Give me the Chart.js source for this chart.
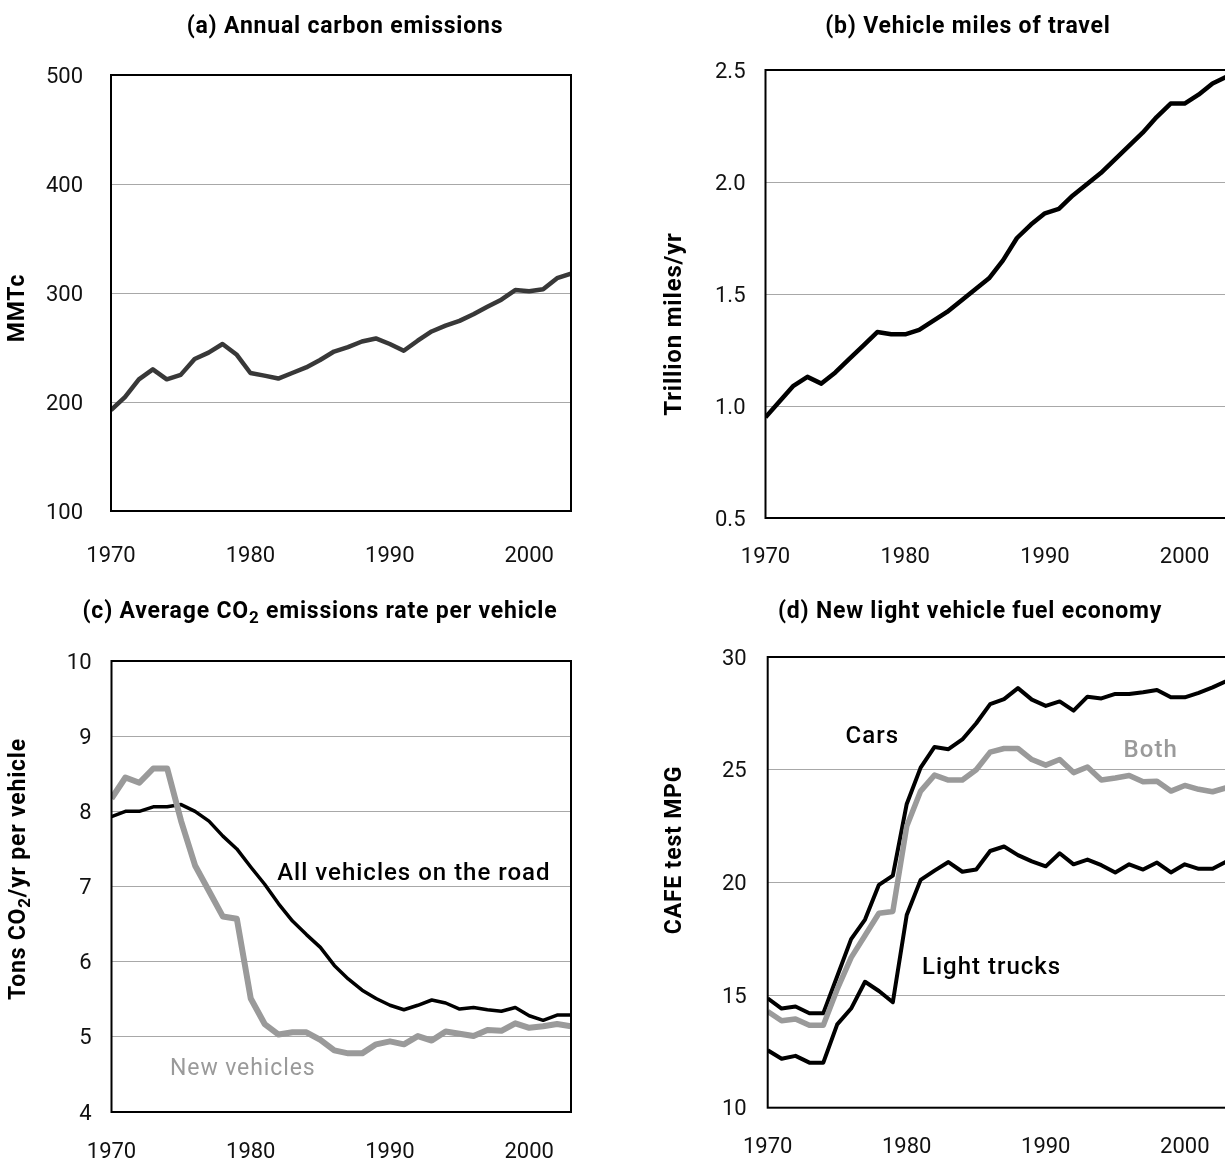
<!DOCTYPE html>
<html>
<head>
<meta charset="utf-8">
<title>Light vehicle trends, 1970–2003</title>
<script src="https://cdn.jsdelivr.net/npm/chart.js@4.4.1/dist/chart.umd.min.js"></script>
<style>
  html, body { margin: 0; padding: 0; background: #fff; width: 1225px; height: 1158px; overflow: hidden; }
  canvas { position: absolute; }
</style>
</head>
<body>
<canvas id="panelA"></canvas>
<canvas id="panelB"></canvas>
<canvas id="panelC"></canvas>
<canvas id="panelD"></canvas>
<script>
// ---- data -------------------------------------------------------------
const years = [1970, 1971, 1972, 1973, 1974, 1975, 1976, 1977, 1978, 1979,
               1980, 1981, 1982, 1983, 1984, 1985, 1986, 1987, 1988, 1989,
               1990, 1991, 1992, 1993, 1994, 1995, 1996, 1997, 1998, 1999,
               2000, 2001, 2002, 2003];
const yearTicks = [1970, 1980, 1990, 2000];

// (a) annual carbon emissions, MMTc
const carbonEmissions = [192.5, 204.4, 220.8, 230.0, 220.8, 224.9, 239.5, 245.3, 253.2, 243.6,
                         226.6, 224.2, 221.5, 226.6, 231.7, 238.5, 246.3, 250.4, 255.5, 258.3,
                         253.2, 247.0, 256.2, 264.7, 270.0, 274.4, 280.5, 287.4, 293.9, 302.7,
                         301.7, 303.4, 313.6, 317.7];
const carbonTicks = [100, 200, 300, 400, 500];

// (b) vehicle miles of travel, trillion miles/yr
const vehicleMiles = [0.95, 1.02, 1.09, 1.13, 1.10, 1.15, 1.21, 1.27, 1.33, 1.32,
                      1.32, 1.34, 1.38, 1.42, 1.47, 1.52, 1.57, 1.65, 1.75, 1.81,
                      1.86, 1.88, 1.94, 1.99, 2.04, 2.10, 2.16, 2.22, 2.29, 2.35,
                      2.35, 2.39, 2.44, 2.47];
const milesTicks = [0.5, 1.0, 1.5, 2.0, 2.5];

// (c) average CO2 emissions rate per vehicle, tons CO2/yr
const allVehiclesRate = [7.93, 8.00, 8.00, 8.06, 8.06, 8.09, 8.00, 7.87, 7.67, 7.50,
                         7.26, 7.03, 6.77, 6.54, 6.36, 6.19, 5.95, 5.77, 5.62, 5.51,
                         5.42, 5.36, 5.42, 5.49, 5.45, 5.37, 5.39, 5.36, 5.34, 5.39,
                         5.28, 5.22, 5.29, 5.29];
const newVehiclesRate = [8.17, 8.45, 8.38, 8.57, 8.57, 7.87, 7.28, 6.94, 6.60, 6.57,
                         5.51, 5.17, 5.03, 5.06, 5.06, 4.96, 4.82, 4.78, 4.78, 4.90,
                         4.94, 4.90, 5.01, 4.95, 5.07, 5.04, 5.01, 5.09, 5.08, 5.18,
                         5.12, 5.14, 5.17, 5.14];
const rateTicks = [4, 5, 6, 7, 8, 9, 10];

// (d) new light vehicle fuel economy, CAFE test MPG
const carsMpg = [14.85, 14.40, 14.49, 14.19, 14.19, 15.83, 17.48, 18.35, 19.89, 20.30,
                 23.48, 25.09, 26.01, 25.91, 26.34, 27.06, 27.91, 28.13, 28.62, 28.11,
                 27.83, 28.03, 27.62, 28.24, 28.16, 28.36, 28.36, 28.44, 28.54, 28.21,
                 28.21, 28.41, 28.65, 28.93];
const bothMpg = [14.27, 13.86, 13.94, 13.66, 13.66, 15.26, 16.66, 17.64, 18.63, 18.71,
                 22.49, 24.05, 24.76, 24.54, 24.54, 25.00, 25.78, 25.94, 25.94, 25.45,
                 25.20, 25.45, 24.87, 25.12, 24.54, 24.63, 24.74, 24.46, 24.49, 24.05,
                 24.30, 24.13, 24.02, 24.20];
const trucksMpg = [12.55, 12.17, 12.30, 12.00, 12.00, 13.70, 14.40, 15.59, 15.18, 14.68,
                   18.55, 20.11, 20.52, 20.90, 20.47, 20.57, 21.39, 21.59, 21.21, 20.93,
                   20.71, 21.29, 20.80, 21.01, 20.76, 20.44, 20.80, 20.57, 20.88, 20.44,
                   20.80, 20.60, 20.60, 20.93];
const mpgTicks = [10, 15, 20, 25, 30];

// ---- styling ----------------------------------------------------------
const FONT = 'Roboto, "Open Sans", "DejaVu Sans", sans-serif';
const BLACK = '#000000';
const GREY = '#9a9a9a';
const DARK = '#383838';

// draws a run of text pieces, some of them as subscripts, starting or centred at x
function drawRuns(ctx, runs, x, y, align, size, weight, spacing) {
  const mainFont = weight + ' ' + size + 'px ' + FONT;
  const subFont = weight + ' ' + Math.round(size * 0.72) + 'px ' + FONT;
  ctx.letterSpacing = spacing + 'px';
  const widths = runs.map(r => { ctx.font = r.sub ? subFont : mainFont; return ctx.measureText(r.t).width; });
  const total = widths.reduce((a, b) => a + b, 0);
  let cx = align === 'center' ? x - total / 2 : x;
  ctx.textAlign = 'left';
  runs.forEach((r, i) => {
    ctx.font = r.sub ? subFont : mainFont;
    ctx.fillText(r.t, cx, r.sub ? y + size * 0.3 : y);
    cx += widths[i];
  });
  ctx.letterSpacing = '0px';
}

// panel title, rotated axis title and in-plot series labels
const panelText = {
  id: 'panelText',
  afterDraw(chart, args, opts) {
    const ctx = chart.ctx;
    ctx.save();
    ctx.textBaseline = 'middle';
    ctx.fillStyle = BLACK;
    const t = opts.title;
    drawRuns(ctx, t.runs, t.x - opts.left, t.y - opts.top, 'center', 23, 'bold', 0.8);
    const a = opts.axisTitle;
    ctx.save();
    ctx.translate(a.x - opts.left, a.y - opts.top);
    ctx.rotate(-Math.PI / 2);
    drawRuns(ctx, a.runs, 0, 0, 'center', a.size || 23, 'bold', 0.8);
    ctx.restore();
    (opts.notes || []).forEach(n => {
      const px = chart.scales.x.getPixelForValue(n.year);
      const py = chart.scales.y.getPixelForValue(n.value);
      ctx.fillStyle = n.color;
      drawRuns(ctx, [{ t: n.text }], px, py, 'left', n.size, n.weight, n.spacing);
    });
    ctx.restore();
  }
};

// black box around the plotting area
const plotFrame = {
  id: 'plotFrame',
  afterDatasetsDraw(chart) {
    const { left, top, right, bottom } = chart.chartArea;
    const ctx = chart.ctx;
    ctx.save();
    ctx.strokeStyle = BLACK;
    ctx.lineWidth = 2;
    ctx.strokeRect(left, top, right - left, bottom - top);
    ctx.restore();
  }
};

function makePanel(id, p) {
  const canvas = document.getElementById(id);
  canvas.width = p.w;
  canvas.height = p.h;
  Object.assign(canvas.style, { left: p.left + 'px', top: p.top + 'px', width: p.w + 'px', height: p.h + 'px' });

  const datasets = p.series.map(s => ({
    data: years.map((yr, i) => ({ x: yr, y: s.values[i] })),
    borderColor: s.color,
    borderWidth: s.width,
    pointRadius: 0,
    tension: 0,
    fill: false,
    borderJoinStyle: 'round'
  }));

  return new Chart(canvas, {
    type: 'line',
    data: { datasets },
    options: {
      responsive: false,
      animation: false,
      devicePixelRatio: 1,
      layout: { padding: { left: 0, top: p.plot.top - p.top, right: p.left + p.w - p.plot.right, bottom: 0 } },
      plugins: {
        legend: { display: false },
        tooltip: { enabled: false },
        panelText: { left: p.left, top: p.top, title: p.title, axisTitle: p.axisTitle, notes: p.notes }
      },
      scales: {
        x: {
          type: 'linear',
          min: 1970,
          max: 2003,
          afterFit(s) { s.height = p.top + p.h - p.plot.bottom; },
          afterBuildTicks(s) { s.ticks = yearTicks.map(v => ({ value: v })); },
          grid: { display: false },
          border: { display: false },
          ticks: { padding: p.xPad, color: '#111', font: { family: FONT, size: 22 }, maxRotation: 0, autoSkip: false,
                   callback: v => String(v) }
        },
        y: {
          type: 'linear',
          min: p.yTicks[0],
          max: p.yTicks[p.yTicks.length - 1],
          afterFit(s) { s.width = p.plot.left - p.left; },
          afterBuildTicks(s) { s.ticks = p.yTicks.map(v => ({ value: v })); },
          grid: { color: '#a8a8a8', lineWidth: 1, drawTicks: false },
          border: { display: false },
          ticks: { padding: p.yPad, labelOffset: 2, color: '#111', font: { family: FONT, size: 22 }, autoSkip: false,
                   callback: v => p.fmt(v) }
        }
      }
    },
    plugins: [panelText, plotFrame]
  });
}

makePanel('panelA', {
  left: 0, top: 0, w: 612, h: 580,
  plot: { left: 111, top: 75, right: 571, bottom: 511 },
  xPad: 24, yPad: 28,
  yTicks: carbonTicks, fmt: v => String(v),
  series: [{ values: carbonEmissions, color: DARK, width: 4.5 }],
  title: { x: 345, y: 27, runs: [{ t: '(a) Annual carbon emissions' }] },
  axisTitle: { x: 18, y: 308, runs: [{ t: 'MMTc' }] }
});

makePanel('panelB', {
  left: 612, top: 0, w: 650, h: 580,
  plot: { left: 765.5, top: 70, right: 1226.5, bottom: 518 },
  xPad: 18, yPad: 20,
  yTicks: milesTicks, fmt: v => v.toFixed(1),
  series: [{ values: vehicleMiles, color: BLACK, width: 4.5 }],
  title: { x: 968, y: 27, runs: [{ t: '(b) Vehicle miles of travel' }] },
  axisTitle: { x: 675, y: 324, size: 24, runs: [{ t: 'Trillion miles/yr' }] }
});

makePanel('panelC', {
  left: 0, top: 580, w: 612, h: 578,
  plot: { left: 111.5, top: 661, right: 571, bottom: 1112 },
  xPad: 19, yPad: 20,
  yTicks: rateTicks, fmt: v => String(v),
  series: [
    { values: newVehiclesRate, color: GREY, width: 6 },
    { values: allVehiclesRate, color: BLACK, width: 3.5 }
  ],
  title: { x: 320, y: 612, runs: [{ t: '(c) Average CO' }, { t: '2', sub: true }, { t: ' emissions rate per vehicle' }] },
  axisTitle: { x: 19, y: 869, runs: [{ t: 'Tons CO' }, { t: '2', sub: true }, { t: '/yr per vehicle' }] },
  notes: [
    { text: 'All vehicles on the road', year: 1981.9, value: 7.17, color: BLACK, size: 24, weight: '500', spacing: 1.0 },
    { text: 'New vehicles', year: 1974.2, value: 4.57, color: GREY, size: 23, weight: '400', spacing: 0.9 }
  ]
});

makePanel('panelD', {
  left: 612, top: 580, w: 650, h: 578,
  plot: { left: 767.7, top: 657, right: 1226.5, bottom: 1107.7 },
  xPad: 19, yPad: 21,
  yTicks: mpgTicks, fmt: v => String(v),
  series: [
    { values: bothMpg, color: GREY, width: 5.5 },
    { values: carsMpg, color: BLACK, width: 4 },
    { values: trucksMpg, color: BLACK, width: 4 }
  ],
  title: { x: 970, y: 612, runs: [{ t: '(d) New light vehicle fuel economy' }] },
  axisTitle: { x: 675, y: 850, runs: [{ t: 'CAFE test MPG' }] },
  notes: [
    { text: 'Cars', year: 1975.6, value: 26.45, color: BLACK, size: 24, weight: '500', spacing: 1.0 },
    { text: 'Both', year: 1995.6, value: 25.83, color: GREY, size: 24, weight: '500', spacing: 1.0 },
    { text: 'Light trucks', year: 1981.1, value: 16.19, color: BLACK, size: 24, weight: '500', spacing: 1.0 }
  ]
});
</script>
</body>
</html>
